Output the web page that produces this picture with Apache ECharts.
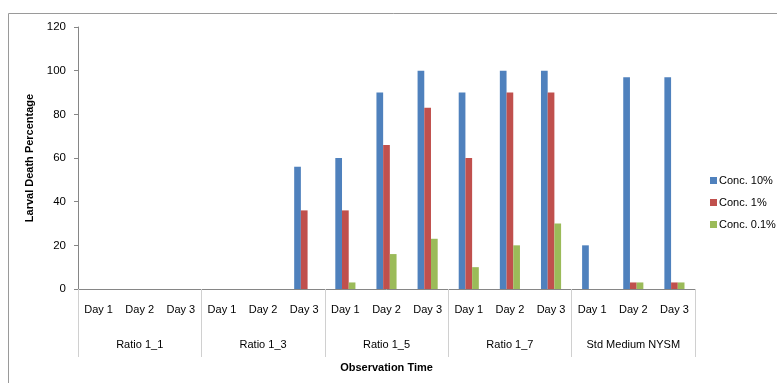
<!DOCTYPE html>
<html>
<head>
<meta charset="utf-8">
<script src="https://cdn.jsdelivr.net/npm/echarts@6/dist/echarts.min.js"></script>
<style>
  html, body { margin: 0; padding: 0; background: #fff; }
  #chart { width: 777px; height: 383px; }
</style>
</head>
<body>
<div id="chart"></div>
<script>
// Larval death percentage per observation day, grouped by ratio / medium
const groups = ['Ratio 1_1', 'Ratio 1_3', 'Ratio 1_5', 'Ratio 1_7', 'Std Medium NYSM'];
const days = ['Day 1', 'Day 2', 'Day 3'];
const seriesNames = ['Conc. 10%', 'Conc. 1%', 'Conc. 0.1%'];
const conc10 = [0, 0, 0, 0, 0, 56, 60, 90, 100, 90, 100, 100, 20, 97, 97];
const conc1 = [0, 0, 0, 0, 0, 36, 36, 66, 83, 60, 90, 90, 0, 3, 3];
const conc01 = [0, 0, 0, 0, 0, 0, 3, 16, 23, 10, 20, 30, 0, 3, 3];
const yTicks = [0, 20, 40, 60, 80, 100, 120];

const colors = ['#4F81BD', '#C0504D', '#9BBB59'];
const font = 'Liberation Sans';

const dayCategories = [];
groups.forEach(() => days.forEach(d => dayCategories.push(d)));

const chart = echarts.init(document.getElementById('chart'), null, { renderer: 'canvas' });

chart.setOption({
  backgroundColor: '#fff',
  textStyle: { fontFamily: font },
  animation: false,
  color: colors,
  graphic: [{
    type: 'rect',
    shape: { x: 8.5, y: 13.5, width: 800, height: 400 },
    style: { fill: 'none', stroke: '#9a9a9a', lineWidth: 1 },
    silent: true
  }],
  legend: {
    orient: 'vertical',
    left: 705,
    top: 170,
    itemWidth: 7,
    itemHeight: 7,
    itemGap: 11,
    icon: 'rect',
    textStyle: { fontFamily: font, fontSize: 11, color: '#000', padding: [0, 0, 0, -3] },
    data: seriesNames
  },
  grid: { left: 78, right: 82, top: 27, bottom: 94, containLabel: false },
  xAxis: [
    {
      type: 'category',
      data: dayCategories,
      position: 'bottom',
      axisLine: { show: true, lineStyle: { color: '#868686', width: 1 } },
      axisTick: { show: false },
      axisLabel: { interval: 0, margin: 15, fontSize: 11, color: '#000', fontFamily: font }
    },
    {
      type: 'category',
      data: groups,
      position: 'bottom',
      axisLine: { show: false },
      axisTick: { show: true, length: 68, lineStyle: { color: '#d0d0d0', width: 1 } },
      axisLabel: { interval: 0, margin: 50, fontSize: 11, color: '#000', fontFamily: font },
      name: 'Observation Time',
      nameLocation: 'middle',
      nameGap: 73,
      nameTextStyle: { fontSize: 11, fontWeight: 'bold', color: '#000', fontFamily: font }
    }
  ],
  yAxis: {
    type: 'value',
    min: yTicks[0],
    max: yTicks[yTicks.length - 1],
    interval: yTicks[1] - yTicks[0],
    axisLine: { show: true, lineStyle: { color: '#868686', width: 1 } },
    axisTick: { show: true, length: 4, lineStyle: { color: '#868686' } },
    splitLine: { show: false },
    axisLabel: { margin: 12, fontSize: 11.5, color: '#000', fontFamily: font },
    name: 'Larval Death Percentage',
    nameLocation: 'middle',
    nameRotate: 90,
    nameGap: 41,
    nameTextStyle: { fontSize: 11, fontWeight: 'bold', color: '#000', fontFamily: font }
  },
  series: [conc10, conc1, conc01].map((vals, i) => ({
    name: seriesNames[i],
    type: 'bar',
    xAxisIndex: 0,
    data: vals,
    barWidth: '16.3%',
    barGap: '0%',
    itemStyle: { color: colors[i] }
  }))
});
</script>
</body>
</html>
